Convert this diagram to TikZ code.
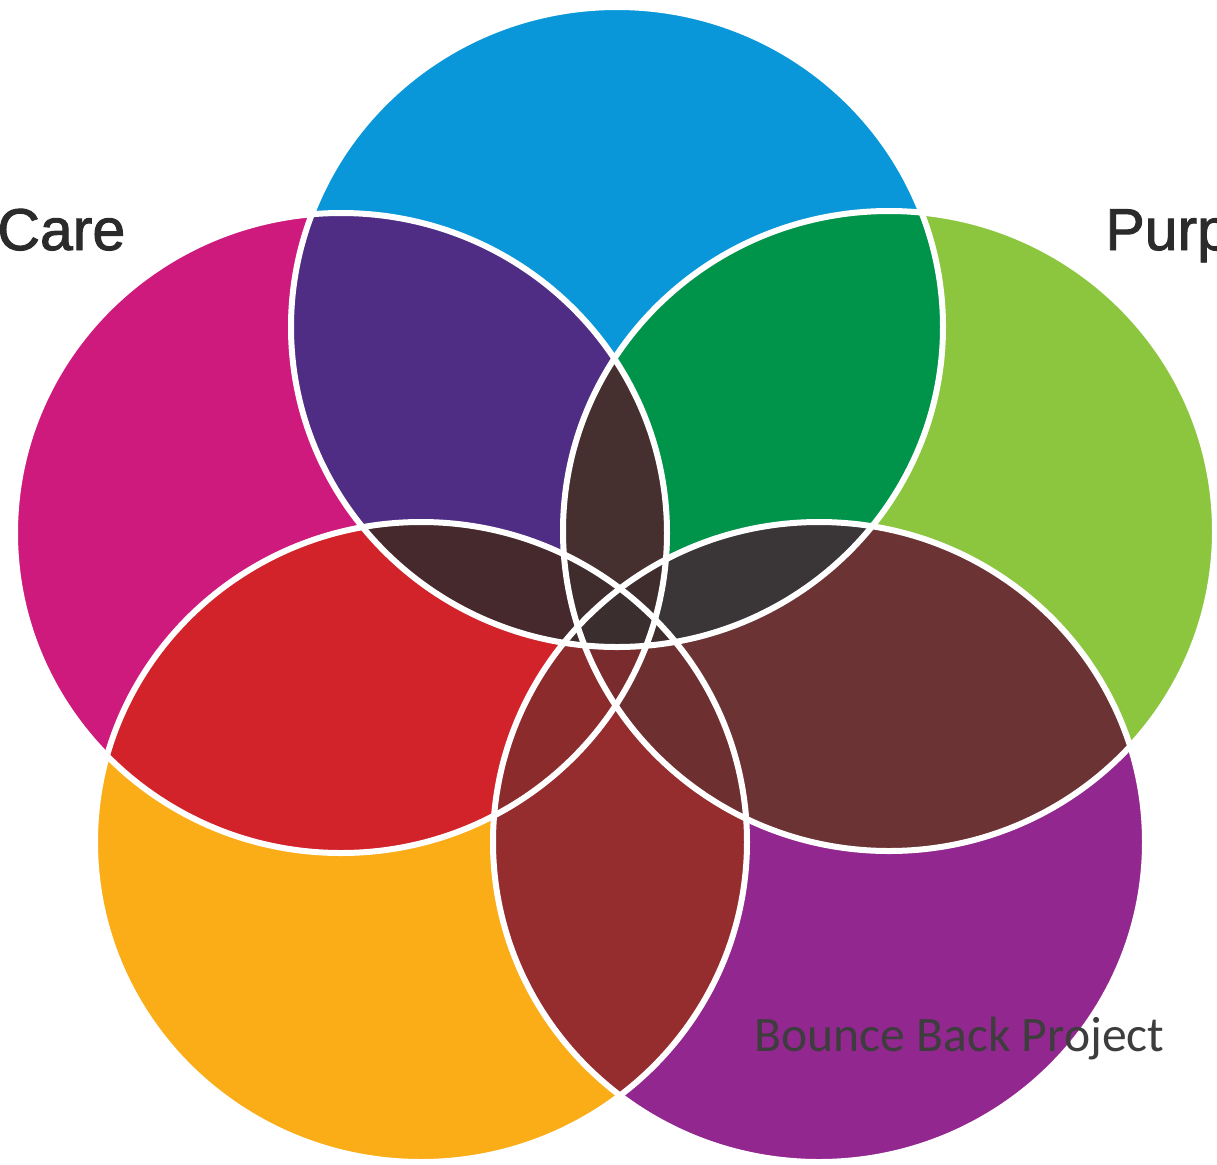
\documentclass[tikz,border=0pt]{standalone}
\usepackage{fontspec}
\setmainfont{Liberation Sans}
\newfontfamily\headfont[FakeBold=1.6]{Liberation Sans}
\newfontfamily\creditfont{Carlito}
\begin{document}
\begin{tikzpicture}[x=0.5pt,y=-0.5pt,
  ring/.style={draw=white, line width=3pt},
  label/.style={inner sep=0pt, anchor=base west, text=black!83}]
% five overlapping rings: top, upper right, lower right, lower left, upper left
\def\cB{(617,327) ellipse [x radius=163pt, y radius=160pt]}
\def\cG{(889,531) ellipse [x radius=163pt, y radius=160pt]}
\def\cP{(819,842) ellipse [x radius=163pt, y radius=160pt]}
\def\cO{(421,842) ellipse [x radius=163pt, y radius=160pt]}
\def\cM{(341,533) ellipse [x radius=163pt, y radius=160pt]}
\definecolor{sB}{HTML}{0A97D9}
\definecolor{sG}{HTML}{8CC63F}
\definecolor{sP}{HTML}{92278F}
\definecolor{sO}{HTML}{FBAD18}
\definecolor{sM}{HTML}{CF1A7D}
\definecolor{pBG}{HTML}{00944A}
\definecolor{pGP}{HTML}{6B3334}
\definecolor{pPO}{HTML}{952C2E}
\definecolor{pOM}{HTML}{D2232A}
\definecolor{pMB}{HTML}{4F2D84}
\definecolor{deep}{HTML}{3F2D2E}
\definecolor{tBGP}{HTML}{3A3536}
\definecolor{tGPO}{HTML}{6E2F30}
\definecolor{tPOM}{HTML}{8C2B2C}
\definecolor{tOMB}{HTML}{46292C}
\definecolor{tMBG}{HTML}{45302F}
\definecolor{qGPOM}{HTML}{7A2B2D}
\definecolor{core}{HTML}{3B2E2E}
\useasboundingbox (0,0) rectangle (1217,1164);
\fill[white] (0,0) rectangle (1217,1164);
\begin{scope}
\clip (0,0) rectangle (1217,1164);
% single rings
\fill[sB] \cB; \fill[sG] \cG; \fill[sP] \cP; \fill[sO] \cO; \fill[sM] \cM;
% pairs
\begin{scope}\clip \cB; \fill[pBG] \cG; \end{scope}
\begin{scope}\clip \cG; \fill[pGP] \cP; \end{scope}
\begin{scope}\clip \cP; \fill[pPO] \cO; \end{scope}
\begin{scope}\clip \cO; \fill[pOM] \cM; \end{scope}
\begin{scope}\clip \cM; \fill[pMB] \cB; \end{scope}
\begin{scope}\clip \cB; \fill[deep] \cP; \end{scope}
\begin{scope}\clip \cB; \fill[deep] \cO; \end{scope}
\begin{scope}\clip \cG; \fill[deep] \cO; \end{scope}
\begin{scope}\clip \cG; \fill[deep] \cM; \end{scope}
\begin{scope}\clip \cP; \fill[deep] \cM; \end{scope}
% triples
\begin{scope}\clip \cB; \clip \cG; \fill[tBGP] \cP; \end{scope}
\begin{scope}\clip \cG; \clip \cP; \fill[tGPO] \cO; \end{scope}
\begin{scope}\clip \cP; \clip \cO; \fill[tPOM] \cM; \end{scope}
\begin{scope}\clip \cO; \clip \cM; \fill[tOMB] \cB; \end{scope}
\begin{scope}\clip \cM; \clip \cB; \fill[tMBG] \cG; \end{scope}
\begin{scope}\clip \cB; \clip \cG; \fill[deep] \cO; \end{scope}
\begin{scope}\clip \cB; \clip \cP; \fill[deep] \cO; \end{scope}
\begin{scope}\clip \cB; \clip \cP; \fill[deep] \cM; \end{scope}
\begin{scope}\clip \cG; \clip \cP; \fill[deep] \cM; \end{scope}
\begin{scope}\clip \cG; \clip \cO; \fill[deep] \cM; \end{scope}
% fours
\begin{scope}\clip \cG; \clip \cP; \clip \cO; \fill[qGPOM] \cM; \end{scope}
\begin{scope}\clip \cB; \clip \cP; \clip \cO; \fill[deep] \cM; \end{scope}
\begin{scope}\clip \cB; \clip \cG; \clip \cO; \fill[deep] \cM; \end{scope}
\begin{scope}\clip \cB; \clip \cG; \clip \cP; \fill[deep] \cM; \end{scope}
\begin{scope}\clip \cB; \clip \cG; \clip \cP; \fill[deep] \cO; \end{scope}
% all five
\begin{scope}\clip \cB; \clip \cG; \clip \cP; \clip \cO; \fill[core] \cM; \end{scope}
% white outlines
\path[ring] \cB; \path[ring] \cG; \path[ring] \cP; \path[ring] \cO; \path[ring] \cM;
% labels
\node[label, font=\headfont\fontsize{29.5}{32}\selectfont] (care) at (-3,250) {Care};
\node[label, font=\headfont\fontsize{29.5}{32}\selectfont] (purp) at (1105,250) {Purp};
\node[label, text=black!76, font=\creditfont\fontsize{24.8}{28}\selectfont] (credit) at (754,1051) {Bounce Back Project};
\end{scope}
\end{tikzpicture}
\end{document}
